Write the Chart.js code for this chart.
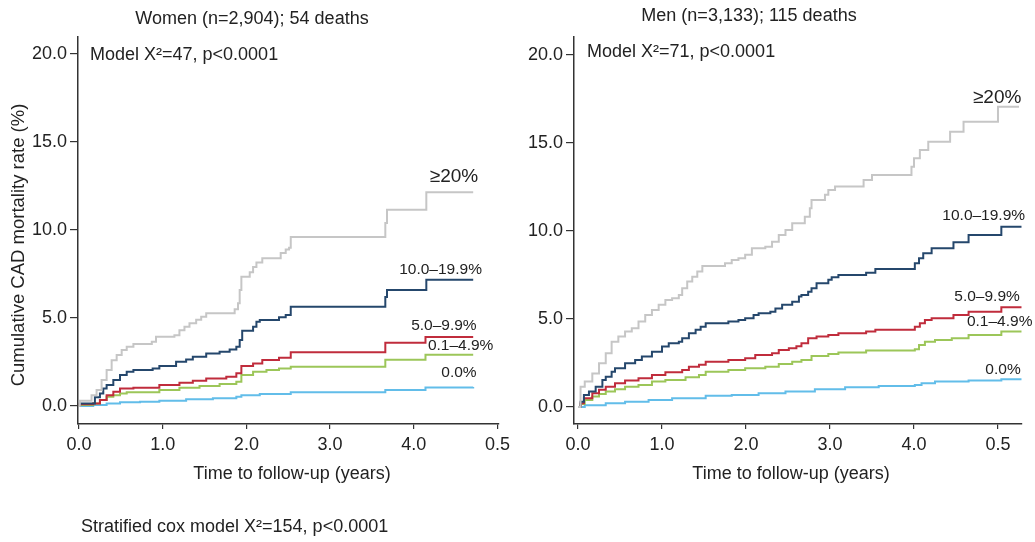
<!DOCTYPE html>
<html>
<head>
<meta charset="utf-8">
<title>Cumulative CAD mortality by risk group</title>
<script src="https://cdn.jsdelivr.net/npm/chart.js@4.4.1/dist/chart.umd.min.js"></script>
<style>
  html, body { margin: 0; padding: 0; background: #fff; }
  #wrap { position: relative; width: 1035px; height: 542px; overflow: hidden; }
  .panel { position: absolute; top: 0; }
  #womenBox { left: 0; }
  #menBox { left: 515px; }
</style>
</head>
<body>
<div id="wrap">
  <div class="panel" id="womenBox"><canvas id="womenChart" width="515" height="542"></canvas></div>
  <div class="panel" id="menBox"><canvas id="menChart" width="520" height="542"></canvas></div>
</div>
<script>
// Groupes de risque (ordre de dessin)
const groupLabels = ['≥20%', '10.0–19.9%', '5.0–9.9%', '0.1–4.9%', '0.0%'];
const groupColors = ['#c6c6c6', '#25476c', '#c02c3c', '#9cc659', '#62bde9'];
const groupLabelSizes = [19, 15.5, 15.5, 15.5, 15.5];

// Axes
const xTickValues = [0, 1, 2, 3, 4, 5];
const xTickLabels = ['0.0', '1.0', '2.0', '3.0', '4.0', '0.5'];
const yTickValues = [0, 5, 10, 15, 20];

// Femmes : [temps (années), mortalité cumulée (%)]
const womenGe20 = [[0,0],[0.01,0.3],[0.15,0.62],[0.21,0.91],[0.27,1.48],[0.33,2.05],[0.39,2.6],[0.45,2.9],[0.51,3.18],[0.57,3.37],[0.65,3.52],[0.87,3.65],[0.92,3.94],[1.14,4.03],[1.2,4.3],[1.26,4.5],[1.32,4.7],[1.4,4.9],[1.46,5.07],[1.52,5.27],[1.86,5.5],[1.9,5.84],[1.92,6.6],[1.94,7.35],[2.04,7.6],[2.08,7.9],[2.12,8.15],[2.19,8.4],[2.41,8.7],[2.47,8.9],[2.51,9.0],[2.53,9.6],[3.66,10.4],[3.68,11.15],[4.15,12.15],[4.71,12.15]];
const women10to19 = [[0,0],[0.01,0.15],[0.19,0.5],[0.25,0.72],[0.29,1.0],[0.33,1.2],[0.41,1.48],[0.49,1.76],[0.57,1.95],[0.65,2.05],[0.88,2.14],[0.96,2.27],[1.16,2.52],[1.28,2.65],[1.36,2.8],[1.52,2.99],[1.68,3.08],[1.8,3.22],[1.88,3.37],[1.92,3.75],[1.95,4.28],[2.08,4.5],[2.12,4.79],[2.16,4.89],[2.39,5.04],[2.47,5.17],[2.53,5.64],[3.66,6.2],[3.68,6.59],[4.15,7.18],[4.71,7.18]];
const women5to9 = [[0,0],[0.01,0.1],[0.17,0.15],[0.25,0.34],[0.33,0.62],[0.41,0.81],[0.49,1.0],[0.65,1.04],[0.96,1.19],[1.2,1.33],[1.36,1.44],[1.52,1.57],[1.76,1.66],[1.88,1.86],[1.94,2.27],[2.08,2.42],[2.19,2.61],[2.39,2.75],[2.53,3.06],[3.66,3.6],[4.14,3.92],[4.71,3.92]];
const women01to4 = [[0,0],[0.01,0.06],[0.17,0.15],[0.25,0.34],[0.33,0.53],[0.41,0.62],[0.49,0.72],[0.57,0.78],[0.96,0.91],[1.2,1.04],[1.44,1.14],[1.68,1.25],[1.88,1.38],[1.94,1.76],[2.08,1.95],[2.24,2.05],[2.39,2.14],[2.53,2.24],[3.66,2.63],[4.14,2.92],[4.71,2.92]];
const women0 = [[0,0],[0.17,0.06],[0.33,0.15],[0.49,0.21],[0.73,0.25],[0.96,0.3],[1.28,0.38],[1.6,0.45],[1.88,0.53],[1.94,0.62],[2.16,0.68],[2.53,0.78],[3.66,0.91],[4.14,1.05],[4.71,1.08]];

// Hommes
const menGe20 = [[0,0],[0.03,1.15],[0.08,1.44],[0.17,1.9],[0.25,2.48],[0.33,3.05],[0.4,3.71],[0.48,4.0],[0.56,4.28],[0.64,4.47],[0.72,4.85],[0.8,5.23],[0.88,5.51],[0.96,5.8],[1.04,6.08],[1.12,6.18],[1.2,6.36],[1.24,6.74],[1.3,7.12],[1.36,7.4],[1.42,7.69],[1.48,8.01],[1.75,8.16],[1.83,8.35],[1.91,8.45],[1.99,8.64],[2.07,9.01],[2.23,9.1],[2.31,9.39],[2.39,9.77],[2.47,10.06],[2.55,10.44],[2.7,10.81],[2.76,11.29],[2.78,11.76],[2.94,12.05],[2.98,12.33],[3.06,12.52],[3.4,12.9],[3.5,13.18],[3.97,13.65],[4.0,14.13],[4.07,14.6],[4.17,15.07],[4.43,15.64],[4.59,16.21],[5.0,17.06],[5.25,17.06]];
const men10to19 = [[0,0],[0.03,0.3],[0.07,0.68],[0.13,0.87],[0.21,1.15],[0.29,1.53],[0.33,1.72],[0.4,2.0],[0.44,2.2],[0.56,2.48],[0.68,2.67],[0.76,2.86],[0.88,3.14],[1.0,3.43],[1.08,3.62],[1.2,3.71],[1.24,3.9],[1.32,4.19],[1.4,4.38],[1.46,4.56],[1.52,4.75],[1.79,4.85],[1.91,4.94],[1.99,5.04],[2.09,5.23],[2.15,5.32],[2.29,5.41],[2.35,5.6],[2.43,5.8],[2.55,5.98],[2.63,6.27],[2.66,6.36],[2.74,6.55],[2.78,6.74],[2.84,7.03],[2.98,7.22],[3.02,7.37],[3.1,7.5],[3.43,7.63],[3.54,7.84],[4.01,8.16],[4.06,8.45],[4.11,8.73],[4.21,9.01],[4.47,9.36],[4.65,9.77],[5.04,10.24],[5.28,10.24]];
const men5to9 = [[0,0],[0.03,0.21],[0.07,0.49],[0.17,0.78],[0.25,0.97],[0.33,1.15],[0.44,1.35],[0.56,1.5],[0.72,1.63],[0.88,1.82],[1.04,1.97],[1.24,2.1],[1.32,2.29],[1.44,2.39],[1.52,2.57],[1.79,2.67],[1.99,2.77],[2.11,2.95],[2.31,3.05],[2.39,3.24],[2.51,3.33],[2.6,3.45],[2.66,3.62],[2.74,3.9],[2.84,4.0],[2.98,4.09],[3.1,4.19],[3.43,4.28],[3.54,4.38],[4.01,4.56],[4.07,4.75],[4.13,4.94],[4.21,5.04],[4.47,5.23],[4.65,5.41],[5.04,5.66],[5.28,5.66]];
const men01to4 = [[0,0],[0.03,0.17],[0.08,0.4],[0.17,0.59],[0.25,0.74],[0.33,0.87],[0.44,1.0],[0.56,1.15],[0.72,1.25],[0.88,1.44],[1.04,1.53],[1.28,1.69],[1.44,1.82],[1.52,2.0],[1.79,2.1],[1.99,2.2],[2.23,2.29],[2.39,2.44],[2.55,2.57],[2.66,2.67],[2.78,2.9],[2.98,3.01],[3.1,3.09],[3.43,3.2],[4.01,3.28],[4.06,3.52],[4.13,3.71],[4.25,3.81],[4.45,3.9],[4.65,4.09],[5.04,4.28],[5.28,4.28]];
const men0 = [[0,0],[0.08,0.1],[0.33,0.21],[0.56,0.3],[0.84,0.4],[1.12,0.49],[1.52,0.64],[1.83,0.68],[2.15,0.78],[2.47,0.87],[2.82,1.0],[3.18,1.12],[3.58,1.19],[4.01,1.25],[4.09,1.35],[4.25,1.44],[4.65,1.5],[5.04,1.57],[5.28,1.57]];

const FONT = '"Liberation Sans", Arial, Helvetica, sans-serif';
const INK = '#222';
Chart.defaults.font.family = FONT;
Chart.defaults.color = INK;

// Étiquettes des courbes, en coordonnées des données
const womenCurveLabels = [[4.48, 13.0], [4.32, 7.73], [4.36, 4.55], [4.56, 3.41], [4.54, 1.88]];
const menCurveLabels = [[4.99, 17.56], [4.83, 10.85], [4.87, 6.25], [5.02, 4.83], [5.06, 2.1]];

// Dessine les textes fixes et les étiquettes de courbe
function textPlugin(texts, curveLabels) {
    return {
        id: 'panelText',
        afterDraw(chart) {
            const ctx = chart.ctx;
            const xs = chart.scales.x;
            const ys = chart.scales.y;
            ctx.save();
            ctx.fillStyle = INK;
            ctx.textBaseline = 'middle';
            texts.forEach(t => {
                ctx.font = t.size + 'px ' + FONT;
                ctx.textAlign = t.align;
                if (t.rotate) {
                    ctx.save();
                    ctx.translate(t.x, t.y);
                    ctx.rotate(-Math.PI / 2);
                    ctx.fillText(t.text, 0, 0);
                    ctx.restore();
                } else {
                    ctx.fillText(t.text, t.x, t.y);
                }
            });
            ctx.textAlign = 'center';
            curveLabels.forEach((p, i) => {
                ctx.font = groupLabelSizes[i] + 'px ' + FONT;
                ctx.fillText(groupLabels[i], xs.getPixelForValue(p[0]), ys.getPixelForValue(p[1]));
            });
            ctx.restore();
        }
    };
}

function makePanel(canvasId, series, cfg) {
    const datasets = series.map((s, i) => ({
        label: groupLabels[i],
        data: s.map(p => ({ x: p[0], y: p[1] })),
        borderColor: groupColors[i],
        borderWidth: 2,
        pointRadius: 0,
        stepped: 'before',
        fill: false
    }));

    return new Chart(document.getElementById(canvasId), {
        type: 'line',
        data: { datasets },
        options: {
            responsive: false,
            animation: false,
            events: [],
            layout: { padding: { top: 37, right: cfg.padRight, left: 0, bottom: 0 } },
            plugins: { legend: { display: false }, tooltip: { enabled: false } },
            scales: {
                x: {
                    type: 'linear',
                    min: cfg.xMin,
                    max: cfg.xMax,
                    afterBuildTicks: scale => { scale.ticks = xTickValues.map(v => ({ value: v })); },
                    afterFit: scale => { scale.height = 118; },
                    ticks: {
                        autoSkip: false,
                        maxRotation: 0,
                        padding: 5,
                        font: { size: 18 },
                        color: INK,
                        callback: (v, idx) => xTickLabels[idx]
                    },
                    grid: { drawOnChartArea: false, drawTicks: true, tickLength: 5, color: '#333', lineWidth: 1.2 },
                    border: { display: true, color: '#333', width: 1.5 }
                },
                y: {
                    type: 'linear',
                    min: cfg.yMin,
                    max: cfg.yMax,
                    afterBuildTicks: scale => { scale.ticks = yTickValues.map(v => ({ value: v })); },
                    afterFit: scale => { scale.width = cfg.yWidth; },
                    ticks: {
                        autoSkip: false,
                        padding: 3,
                        font: { size: 18 },
                        color: INK,
                        callback: v => v.toFixed(1)
                    },
                    grid: { drawOnChartArea: false, drawTicks: true, tickLength: 8, color: '#333', lineWidth: 1.2 },
                    border: { display: true, color: '#333', width: 1.5 }
                }
            }
        },
        plugins: [textPlugin(cfg.texts, cfg.curveLabels)]
    });
}

// Panneau des femmes
makePanel('womenChart', [womenGe20, women10to19, women5to9, women01to4, women0], {
    xMin: -0.012, xMax: 5.01, yMin: -1.02, yMax: 20.97, yWidth: 78, padRight: 15,
    curveLabels: womenCurveLabels,
    texts: [
        { text: 'Women (n=2,904); 54 deaths', x: 252, y: 19, size: 18, align: 'center' },
        { text: 'Model X²=47, p<0.0001', x: 90, y: 55, size: 18, align: 'left' },
        { text: 'Time to follow-up (years)', x: 292, y: 474, size: 18, align: 'center' },
        { text: 'Cumulative CAD mortality rate (%)', x: 19, y: 245, size: 18.5, align: 'center', rotate: true },
        { text: 'Stratified cox model X²=154, p<0.0001', x: 81, y: 527, size: 18, align: 'left' }
    ]
});

// Panneau des hommes
makePanel('menChart', [menGe20, men10to19, men5to9, men01to4, men0], {
    xMin: -0.048, xMax: 5.286, yMin: -0.97, yMax: 21.02, yWidth: 59, padRight: 13,
    curveLabels: menCurveLabels,
    texts: [
        { text: 'Men (n=3,133); 115 deaths', x: 234, y: 16, size: 18, align: 'center' },
        { text: 'Model X²=71, p<0.0001', x: 72, y: 52, size: 18, align: 'left' },
        { text: 'Time to follow-up (years)', x: 276, y: 474, size: 18, align: 'center' }
    ]
});
</script>
</body>
</html>
